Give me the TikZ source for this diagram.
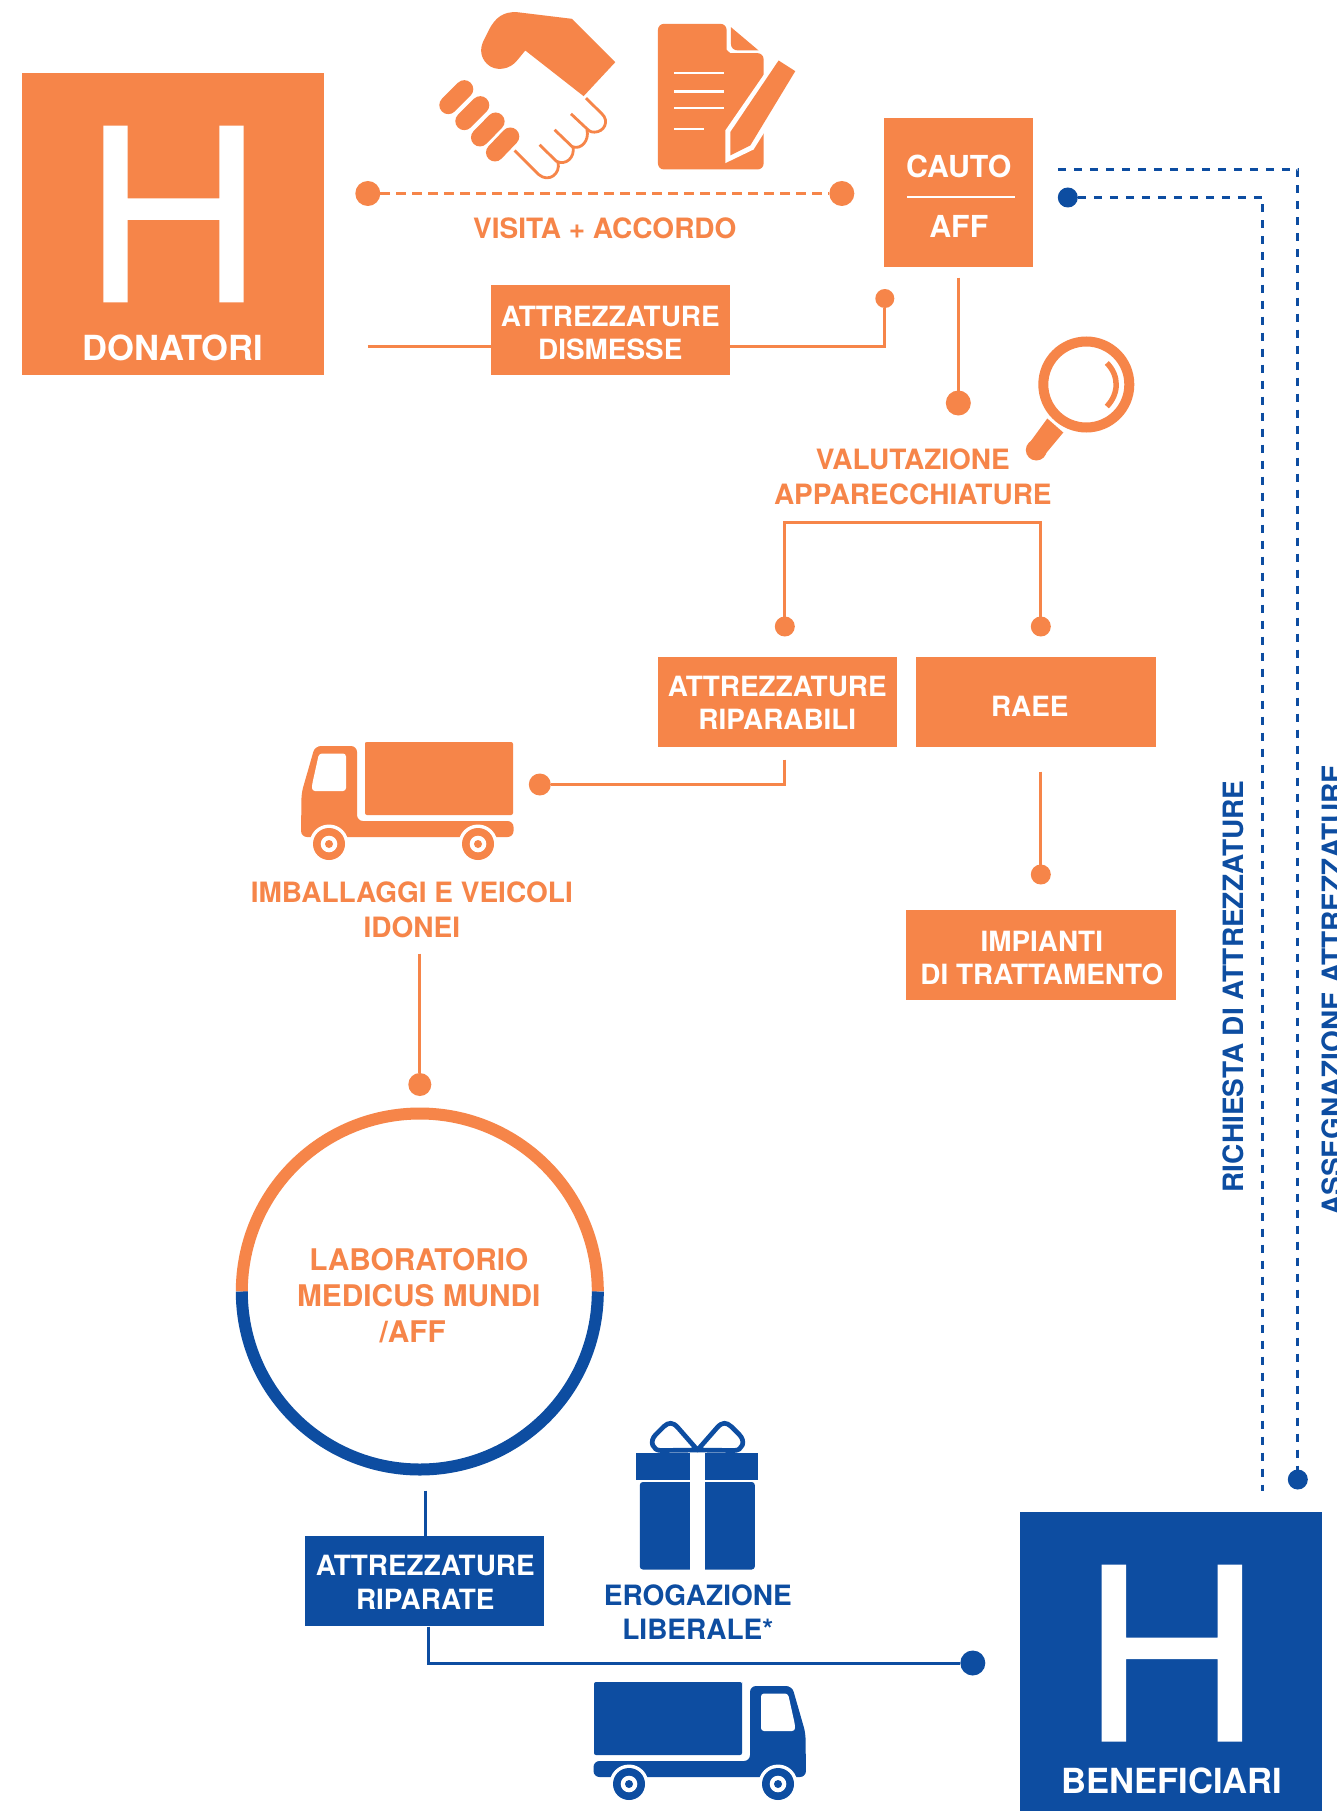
\documentclass[tikz,border=0pt]{standalone}
\usepackage{fontspec}
\setmainfont{TeX Gyre Heros}
\definecolor{org}{HTML}{F68549}
\definecolor{blu}{HTML}{0D4DA1}
\newcommand{\lorrydraw}{%
  \fill (365,744) [rounded corners=2pt] -- (365,742) -- (513,742) -- (513,815) -- (365,815) -- cycle;
  \fill[rounded corners=6pt] (357,746) -- (315,746) -- (301.5,793) -- (301,837) -- (513.5,837) -- (513.5,821) -- (357,821) -- cycle;
  \fill[white,rounded corners=3pt] (346,753.5) -- (319,753.5) -- (312,785) -- (312,791) -- (346,791) -- cycle;
  \foreach \wx in {329,478}{
    \fill[white] (\wx,844) circle[radius=19.5pt];
    \fill (\wx,844) circle[radius=16pt];
    \fill[white] (\wx,844) circle[radius=8.3pt];
    \fill (\wx,844) circle[radius=4pt];
  }
}
\tikzset{
  x=1pt,y=-1pt,
  every node/.style={inner sep=0pt,outer sep=0pt},
  labelfont/.style={font=\fontsize{28}{34.5}\bfseries\selectfont,align=center},
  boxfont/.style={font=\fontsize{27.9}{33.5}\bfseries\selectfont,align=center,text=white},
  olabel/.style={labelfont,text=org},
  blabel/.style={labelfont,text=blu},
  obox/.style={fill=org,minimum width=239pt,minimum height=90pt},
  bbox/.style={fill=blu,minimum width=239pt,minimum height=90pt},
  odot/.style={circle,fill=org,minimum size=#1},
  bdot/.style={circle,fill=blu,minimum size=#1},
  oline/.style={draw=org,line width=3pt},
  bline/.style={draw=blu,line width=3pt},
  odash/.style={draw=org,line width=3pt,dash pattern=on 10pt off 6pt},
  bdash/.style={draw=blu,line width=3pt,dash pattern=on 8pt off 8pt},
  bigname/.style={font=\fontsize{34.6}{36}\bfseries\selectfont,text=white},
}
\begin{document}
\begin{tikzpicture}
\useasboundingbox (0,0) rectangle (1336,1811);
\fill[white] (0,0) rectangle (1336,1811);

% ---- DONATORI
\fill[org] (22,73) rectangle (324,375);
\fill[white] (103.3,125.7) -- (127.6,125.7) -- (127.6,198.3) -- (219.4,198.3) -- (219.4,125.7) -- (243.7,125.7) -- (243.7,302.3) -- (219.4,302.3) -- (219.4,220) -- (127.6,220) -- (127.6,302.3) -- (103.3,302.3) -- cycle;
\node[bigname] (don) at (173,348) {DONATORI};

% ---- BENEFICIARI
\fill[blu] (1020,1511.5) rectangle (1322,1815);
\fill[white] (1101.7,1564.7) -- (1126,1564.7) -- (1126,1637.7) -- (1217.7,1637.7) -- (1217.7,1564.7) -- (1242,1564.7) -- (1242,1741.7) -- (1217.7,1741.7) -- (1217.7,1659) -- (1126,1659) -- (1126,1741.7) -- (1101.7,1741.7) -- cycle;
\node[bigname] (ben) at (1171.8,1781) {BENEFICIARI};

% ---- orange lorry
\begin{scope}[org,fill=org]
  \lorrydraw
\end{scope}
% ---- blue lorry
\begin{scope}[blu,fill=blu,shift={(1107,940)},xscale=-1]
  \lorrydraw
\end{scope}

\begin{scope}[shift={(0.8,0.5)}]
% ---- handshake (coordinates: zoom/3 + offset)
\begin{scope}[shift={(419.5,0)},x=0.3333pt,y=-0.3333pt]
  \fill[org] (290,35) -- (455,55) -- (585,185) -- (490,287) -- (315,150) -- (292,178)
     .. controls (270,208) and (225,215) .. (200,190)
     .. controls (180,170) and (178,145) .. (190,120)
     -- (205,90) .. controls (225,50) and (250,33) .. (290,35) -- cycle;
  \foreach \fa/\fb/\fc/\fd in {84/314/132/266, 132/362/180/314, 179/411/226/363, 224/456/270/408}{
    \draw[org,line width=18pt,line cap=round] (\fa,\fb) -- (\fc,\fd);
  }
  \draw[org,line width=2.8pt,line join=round] (497,293) -- (545,340) .. controls (568,362) and (552,395) .. (522,395) .. controls (510,395) and (505,390) .. (500,385) -- (452,340);
  \draw[org,line width=2.8pt,line join=round] (500,388) .. controls (508,420) and (482,450) .. (455,438) -- (403,388);
  \draw[org,line width=2.8pt,line join=round] (458,438) .. controls (465,470) and (437,497) .. (408,482) -- (358,433);
  \draw[org,line width=2.8pt,line join=round] (413,485) .. controls (422,520) and (385,548) .. (355,522) -- (283,450);

  % ---- document with pen
  \fill[org,rounded corners=6pt] (713,70) -- (919,70) -- (919,130) .. controls (919,148) and (930,158) .. (948,158) -- (1030,158) -- (1030,507) -- (713,507) -- cycle;
  \fill[org] (932,80) -- (1015,150) -- (955,150) .. controls (940,150) and (932,142) .. (932,130) -- cycle;
  \fill[white] (760,213.5) rectangle (912,221);
  \fill[white] (760,269.5) rectangle (912,277);
  \fill[white] (760,319.5) rectangle (912,327);
  \fill[white] (760,381.5) rectangle (850,389);
  \fill[white] (1060,180) -- (915,390) -- (915,488) -- (1000,447) -- (1045,375) -- (1130,220) -- cycle;
  \fill[org] (1075,180) -- (1125,212) -- (990,435) -- (930,465) -- (930,395) -- cycle;
\end{scope}

% ---- top dotted link
\node[odot=25pt] (visA) at (367,193) {};
\node[odot=25pt] (visB) at (841,193) {};
\draw[odash] (visA) -- (visB);
\node[olabel] (visita) at (604,227.5) {VISITA + ACCORDO};

% ---- CAUTO AFF
\node[fill=org,minimum width=149pt,minimum height=149pt] (cauto) at (958,192.2) {};
\node[boxfont,font=\fontsize{30.3}{34}\bfseries\selectfont] (cautoT) at (958,166) {CAUTO};
\node[boxfont,font=\fontsize{30.3}{34}\bfseries\selectfont] (affT) at (958,226) {AFF};
\draw[white,line width=2pt] (906,197) -- (1014,197);

% ---- attrezzature dismesse
\coordinate (disStart) at (367,345.5);
\node[obox] (dis) at (609.5,329.7) {};
\node[boxfont] (disT) at (609.5,332.5) {ATTREZZATURE\\DISMESSE};
\node[odot=19pt] (disEnd) at (884,298) {};
\draw[oline] (disStart) -- (dis.west |- disStart);
\draw[oline] (dis.east |- disStart) -| (disEnd);

% ---- valutazione
\coordinate (vtop) at (957,277);
\node[odot=25pt] (vdot) at (957.5,402.5) {};
\draw[oline] (vtop -| vdot) -- (vdot);
\draw[org,line width=10pt] (1085.5,384) circle[radius=43pt];
\draw[org,line width=5.5pt] (1106,362.5) .. controls (1118.5,375) and (1118.5,393) .. (1106,406);
\fill[org] (1046.5,418) -- (1062.5,432) -- (1042.5,456) -- (1027.5,444) -- cycle;
\fill[org] (1035.5,449.5) circle[radius=10.5pt];
\node[olabel] (val) at (912,476.5) {VALUTAZIONE\\APPARECCHIATURE};

% ---- bracket
\node[odot=20pt] (dotL) at (784,626) {};
\node[odot=20pt] (dotR) at (1040,626) {};
\coordinate (brL) at (784,522);
\coordinate (brR) at (1040,522);
\draw[oline] (dotL) -- (brL) -- (brR) -- (dotR);

\node[obox] (rip) at (776.5,701.7) {};
\node[boxfont] (ripT) at (776.5,702.5) {ATTREZZATURE\\RIPARABILI};
\node[obox,minimum width=240pt] (raee) at (1035,701.7) {};
\node[boxfont] (raeeT) at (1029,705.5) {RAEE};

% ---- RAEE to impianti
\coordinate (raeeS) at (1040,771);
\node[odot=20pt] (impDot) at (1040,874) {};
\draw[oline] (raeeS) -- (impDot);
\node[obox,minimum width=270pt] (imp) at (1040,954.7) {};
\node[boxfont] (impT) at (1041,957.5) {IMPIANTI\\DI TRATTAMENTO};

\coordinate (ripS) at (784,759);
\node[odot=22pt] (lorDot) at (539,784) {};
\draw[oline] (ripS) |- (lorDot);
\node[olabel] (imb) at (411,909.5) {IMBALLAGGI E VEICOLI\\IDONEI};

% ---- laboratory circle
\coordinate (labTop) at (419,953);
\node[odot=23pt] (labDot) at (419,1084) {};
\draw[oline] (labTop) -- (labDot);
\draw[org,line width=12pt] (241,1291) arc[start angle=180,end angle=0,radius=178pt];
\draw[blu,line width=12pt] (241,1291) arc[start angle=180,end angle=360,radius=178pt];
\node[olabel,font=\fontsize{29.8}{36}\bfseries\selectfont] (lab) at (418,1295) {LABORATORIO\\MEDICUS MUNDI\\\hspace{-12pt}/AFF};

% ---- attrezzature riparate
\coordinate (repTop) at (425,1490);
\node[bbox] (rep) at (424,1580.7) {};
\node[boxfont] (repT) at (424.5,1582) {ATTREZZATURE\\RIPARATE};
\draw[bline] (repTop) -- (rep.north -| repTop);
\node[bdot=25pt] (repDot) at (972,1662.5) {};
\coordinate (repBot) at (427.5,1626);
\draw[bline] (repBot) |- (repDot);

% ---- gift
\fill[blu] (635.5,1452) rectangle (757.5,1479.5);
\fill[blu,rounded corners=3pt] (639,1481.5) rectangle (754,1569);
\fill[white] (689.5,1452) rectangle (704.5,1569);
\draw[blu,line width=4.7pt,line join=round] (696.7,1449.5) -- (677,1427) .. controls (672,1421.5) and (668,1421.5) .. (663,1426) -- (655,1434) .. controls (648,1441) and (652,1450) .. (660,1450) -- cycle;
\draw[blu,line width=4.7pt,line join=round] (696.7,1449.5) -- (716.4,1427) .. controls (721.4,1421.5) and (725.4,1421.5) .. (730.4,1426) -- (738.4,1434) .. controls (745.4,1441) and (741.4,1450) .. (733.4,1450) -- cycle;
\node[blabel] (ero) at (697,1611.5) {EROGAZIONE\\LIBERALE*};

% ---- blue dashed links
\coordinate (asA) at (1057,169);
\coordinate (asC) at (1297,169);
\node[bdot=20pt] (asDot) at (1297,1479) {};
\draw[bdash] (asA) -- (asC) -- (asDot);
\node[bdot=20pt] (riDot) at (1067,197) {};
\coordinate (riC) at (1262,197);
\coordinate (riEnd) at (1262,1490);
\draw[bdash] (riDot) -- (riC) -- (riEnd);
\node[blabel,rotate=90] (ric) at (1232,986) {RICHIESTA DI ATTREZZATURE};
\node[blabel,rotate=90] (ass) at (1331,989.5) {ASSEGNAZIONE ATTREZZATURE};
\end{scope}
\end{tikzpicture}
\end{document}
